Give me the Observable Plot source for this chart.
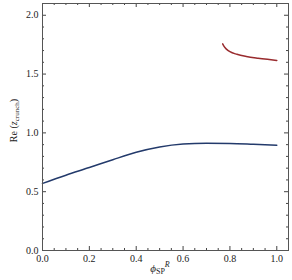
<!DOCTYPE html>
<html><head><meta charset="utf-8">
<script src="https://cdn.jsdelivr.net/npm/d3@7"></script>
<script src="https://cdn.jsdelivr.net/npm/@observablehq/plot@0.6"></script>
<style>body{margin:0;background:#fff} svg text{font-family:"Liberation Serif",serif !important}</style>
</head><body><div id="chart"></div>
<script>
const bluePhi = [0, 0.1, 0.2, 0.3, 0.4, 0.5, 0.6, 0.7, 0.8, 0.9, 1.0];
const blueRe  = [0.57, 0.64, 0.705, 0.772, 0.835, 0.88, 0.905, 0.912, 0.91, 0.903, 0.895];
const redPhi = [0.769, 0.775, 0.785, 0.80, 0.83, 0.87, 0.92, 0.96, 1.0];
const redRe  = [1.757, 1.735, 1.712, 1.69, 1.668, 1.65, 1.635, 1.625, 1.616];
const xMajor = [0, 0.2, 0.4, 0.6, 0.8, 1.0];
const yMajor = [0, 0.5, 1.0, 1.5, 2.0];
const xMinor = d3.range(0, 1.05, 0.05).filter(v => xMajor.every(m => Math.abs(m - v) > 1e-6));
const yMinor = d3.range(0, 2.1, 0.1).filter(v => yMajor.every(m => Math.abs(m - v) > 1e-6));

const W = 292, H = 280, mT = 3, mB = 30, mL = 42, mR = 4;
const fh = H - mT - mB, fw = W - mL - mR;
const big = 4, small = 2;
const blue = bluePhi.map((p, i) => ({p, v: blueRe[i]}));
const red = redPhi.map((p, i) => ({p, v: redRe[i]}));
const tc = "#444";

const plot = Plot.plot({
  width: W, height: H,
  marginTop: mT, marginBottom: mB, marginLeft: mL, marginRight: mR,
  style: {fontFamily: "Liberation Serif", fontSize: "10px", color: "#222", background: "#fff"},
  x: {domain: [0, 1.05], label: null},
  y: {domain: [0, 2.1], label: null},
  marks: [
    Plot.axisX({ticks: xMajor, tickSize: 0, tickPadding: 4, tickFormat: d3.format(".1f"), label: null}),
    Plot.axisY({ticks: yMajor, tickSize: 0, tickPadding: 4, tickFormat: d3.format(".1f"), label: null}),
    Plot.tickX(xMajor, {x: d => d, stroke: tc, insetTop: fh - big}),
    Plot.tickX(xMajor, {x: d => d, stroke: tc, insetBottom: fh - big}),
    Plot.tickX(xMinor, {x: d => d, stroke: tc, insetTop: fh - small}),
    Plot.tickX(xMinor, {x: d => d, stroke: tc, insetBottom: fh - small}),
    Plot.tickY(yMajor, {y: d => d, stroke: tc, insetRight: fw - big}),
    Plot.tickY(yMajor, {y: d => d, stroke: tc, insetLeft: fw - big}),
    Plot.tickY(yMinor, {y: d => d, stroke: tc, insetRight: fw - small}),
    Plot.tickY(yMinor, {y: d => d, stroke: tc, insetLeft: fw - small}),
    Plot.line(blue, {x: "p", y: "v", stroke: "#233a6b", strokeWidth: 1.5, curve: "monotone-x"}),
    Plot.line(red, {x: "p", y: "v", stroke: "#992b2e", strokeWidth: 1.5, curve: "monotone-x"}),
    Plot.frame({stroke: "#555"})
  ]
});
document.getElementById("chart").appendChild(plot);

const svg = d3.select(plot);
const xl = svg.append("text")
  .attr("x", mL + fw / 2 - 5).attr("y", 272)
  .attr("text-anchor", "middle")
  .attr("font-size", 11).attr("fill", "#222");
xl.append("tspan").attr("font-style", "italic").text("ϕ");
xl.append("tspan").attr("font-size", 8).attr("dy", 2).text("SP");
xl.append("tspan").attr("font-size", 8).attr("font-style", "italic").attr("dy", -7).text("R");

const yl = svg.append("text")
  .attr("transform", `translate(17,${mT + fh / 2 - 6}) rotate(-90)`)
  .attr("text-anchor", "middle")
  .attr("font-size", 10).attr("fill", "#222");
yl.append("tspan").text("Re (");
yl.append("tspan").attr("font-style", "italic").text("z");
yl.append("tspan").attr("font-size", 7).attr("dy", 2).text("crunch");
yl.append("tspan").attr("dy", -2).text(")");
</script>
</body></html>
